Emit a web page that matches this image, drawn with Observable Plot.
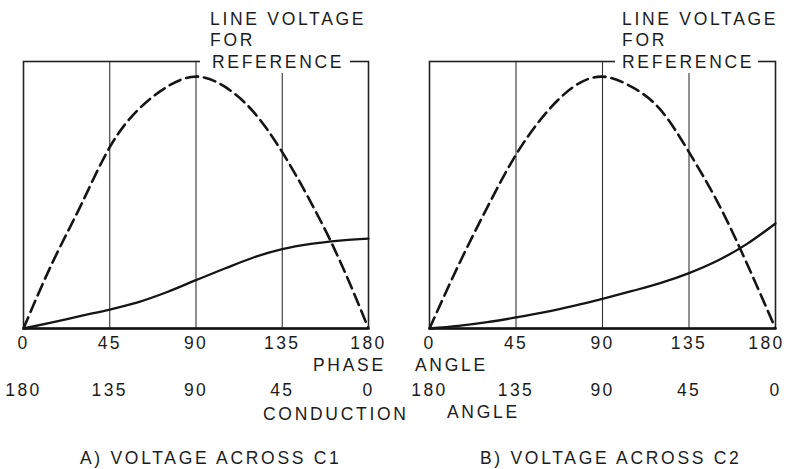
<!DOCTYPE html>
<html>
<head>
<meta charset="utf-8">
<script src="https://cdn.jsdelivr.net/npm/d3@7"></script>
<script src="https://cdn.jsdelivr.net/npm/@observablehq/plot@0.6"></script>
<style>
  html, body { margin: 0; padding: 0; background: #fff; }
  #root { position: relative; width: 790px; height: 469px; overflow: hidden; background: #fff; }
  #root svg { position: absolute; top: 0; }
  .lbl { position: absolute; font-family: "Liberation Sans", Arial, sans-serif; font-size: 17.5px;
         line-height: 17px; letter-spacing: 2.7px; color: #1c1c1c; white-space: nowrap; }
  .ref { background: #fff; line-height: 21px; }
</style>
</head>
<body>
<div id="root"></div>
<script>
// ---- data ----
const angles        = [0, 15, 30, 45, 60, 75, 90, 105, 120, 135, 150, 165, 180];
// dashed "line voltage for reference" (normalized to its peak)
const lineVoltageA  = [0, 0.26, 0.49, 0.72, 0.87, 0.96, 1.0, 0.96, 0.86, 0.70, 0.50, 0.27, 0];
const lineVoltageB  = [0, 0.25, 0.48, 0.69, 0.85, 0.96, 1.0, 0.96, 0.87, 0.70, 0.50, 0.26, 0];
// solid capacitor voltages
const voltageC1     = [0, 0.024, 0.05, 0.075, 0.105, 0.145, 0.192, 0.238, 0.282, 0.315, 0.336, 0.349, 0.357];
const voltageC2     = [0, 0.01, 0.025, 0.044, 0.065, 0.09, 0.118, 0.148, 0.18, 0.22, 0.27, 0.335, 0.417];
const phaseTicks       = [0, 45, 90, 135, 180];
const conductionTicks  = [180, 135, 90, 45, 0];
const refLabel   = ["LINE VOLTAGE", "FOR", "REFERENCE"];
const phaseLabel = ["PHASE", "ANGLE"];
const condLabel  = ["CONDUCTION", "ANGLE"];
const captions   = ["A) VOLTAGE ACROSS C1", "B) VOLTAGE ACROSS C2"];

const root = document.getElementById("root");
const ink = "#151515";

function panel(lineVals, capVals, opts) {
  const data = angles.map((a, i) => ({angle: a, line: lineVals[i], cap: capVals[i]}));
  const inner = opts.shiftLast ? phaseTicks.slice(0, -1) : phaseTicks;
  const marks = [
    Plot.ruleX(phaseTicks.slice(1, -1), {stroke: "#333", strokeWidth: 1.1}),
    Plot.frame({stroke: "#222", strokeWidth: 1.6}),
    Plot.ruleY([0], {stroke: "#111", strokeWidth: 2.4}),
    Plot.line(data, {x: "angle", y: "line", curve: "natural", stroke: ink,
                     strokeWidth: 2.6, strokeDasharray: "12,6"}),
    Plot.line(data, {x: "angle", y: "cap", curve: "monotone-x", stroke: ink, strokeWidth: 2.3}),
    Plot.axisX({ticks: inner, tickSize: 0, tickPadding: 8, label: null}),
    Plot.axisX({ticks: phaseTicks, tickSize: 0, tickPadding: 55, label: null,
                tickFormat: d => conductionTicks[phaseTicks.indexOf(d)]})
  ];
  if (opts.shiftLast) {
    marks.push(Plot.axisX({ticks: phaseTicks.slice(-1), tickSize: 0, tickPadding: 8, label: null, dx: -9}));
  }
  return Plot.plot({
    width: 395, height: 469,
    marginLeft: opts.ml, marginRight: opts.mr, marginTop: 61, marginBottom: 141,
    x: {domain: [0, 180]},
    y: {domain: [0, 1.06], axis: null},
    style: {fontFamily: "'Liberation Sans', Arial, sans-serif", fontSize: "17.5px",
            letterSpacing: "2.4px", color: "#1c1c1c", background: "transparent", overflow: "visible"},
    marks
  });
}

const left = panel(lineVoltageA, voltageC1, {ml: 23, mr: 27});
left.style.left = "0px";
root.appendChild(left);
const right = panel(lineVoltageB, voltageC2, {ml: 34, mr: 15, shiftLast: true});
right.style.left = "395px";
root.appendChild(right);

function label(text, x, cy, cls) {
  const d = document.createElement("div");
  d.className = "lbl" + (cls ? " " + cls : "");
  d.textContent = text;
  d.style.left = x + "px";
  d.style.top = (cy - 8.5) + "px";
  root.appendChild(d);
  return d;
}

// reference labels above each frame
[[210, 200, 12, 6], [622, 615, 7, 4]].forEach(([x, bx, pl, pr]) => {
  label(refLabel[0], x, 19);
  label(refLabel[1], x, 40);
  const r = label(refLabel[2], bx, 62, "ref");
  r.style.paddingLeft = pl + "px";
  r.style.paddingRight = pr + "px";
  r.style.top = "51.5px";
});

label(phaseLabel[0], 313, 365);
label(phaseLabel[1], 415, 365);
label(condLabel[0], 263, 414);
label(condLabel[1], 447, 412);
label(captions[0], 80, 458);
label(captions[1], 480, 458);
</script>
</body>
</html>
